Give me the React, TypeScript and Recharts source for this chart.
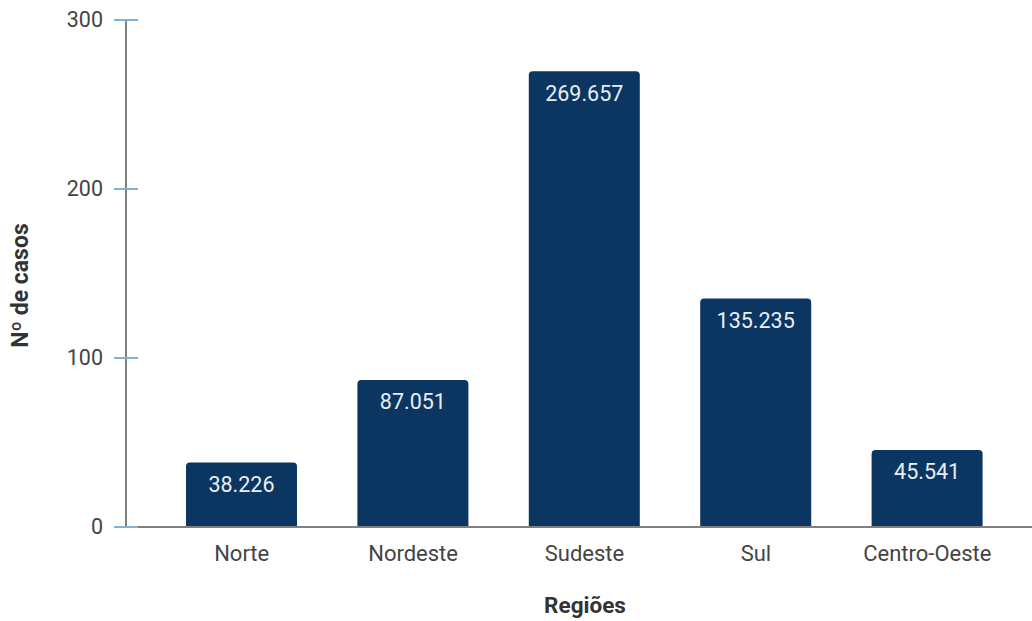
import { BarChart, Bar, XAxis, YAxis, LabelList, Label } from "recharts"

const regions = ["Norte", "Nordeste", "Sudeste", "Sul", "Centro-Oeste"]
const cases = [38.226, 87.051, 269.657, 135.235, 45.541]
const yTicks = [0, 100, 200, 300]

const data = regions.map((name, i) => ({ name, cases: cases[i] }))

const font = "Roboto, Arial, sans-serif"
const barColor = "#0b3662"

function YTick(props: any) {
  const { x, y, payload } = props
  const axisX = x + 23
  return (
    <g>
      <line x1={axisX - 12} x2={axisX + 12} y1={y} y2={y} stroke="#7fb2d4" strokeWidth={2} />
      <text x={x} y={y} dy={7} textAnchor="end" fill="#444" fontSize={21.5} fontFamily={font}>
        {payload.value}
      </text>
    </g>
  )
}

export default function App() {
  return (
    <div style={{ position: "absolute", left: 0, top: 0, background: "#fff" }}>
      <BarChart
        width={1032}
        height={621}
        data={data}
        margin={{ top: 20, right: 0, bottom: 0, left: 0 }}
      >
        <XAxis
          dataKey="name"
          height={94}
          axisLine={{ stroke: "#808080", strokeWidth: 2 }}
          tickLine={false}
          tickMargin={12}
          padding={{ left: 30, right: 19 }}
          tick={{ fill: "#444", fontSize: 22, fontFamily: font }}
        >
          <Label
            content={({ viewBox }: any) => (
              <text
                x={viewBox.x + viewBox.width / 2 + 6}
                y={613}
                textAnchor="middle"
                fontWeight="bold"
                fontSize={22.5}
                fill="#333"
                fontFamily={font}
              >
                Regiões
              </text>
            )}
          />
        </XAxis>
        <YAxis
          width={126}
          domain={[0, 300]}
          ticks={yTicks}
          interval={0}
          axisLine={{ stroke: "#808080", strokeWidth: 2 }}
          tickLine={false}
          tickSize={12}
          tickMargin={11}
          tick={<YTick />}
        >
          <Label
            content={({ viewBox }: any) => (
              <text
                x={28}
                y={viewBox.y + viewBox.height / 2 + 12}
                transform={`rotate(-90, 28, ${viewBox.y + viewBox.height / 2 + 12})`}
                textAnchor="middle"
                fontWeight="bold"
                fontSize={23}
                fill="#333"
                fontFamily={font}
              >
                Nº de casos
              </text>
            )}
          />
        </YAxis>
        <Bar dataKey="cases" fill={barColor} barSize={111} radius={[4, 4, 0, 0]} isAnimationActive={false}>
          <LabelList
            dataKey="cases"
            position="insideTop"
            offset={14}
            fill="#e9eef4"
            fontSize={21.5}
            fontFamily={font}
            formatter={(v: any) => Number(v).toFixed(3)}
          />
        </Bar>
      </BarChart>
    </div>
  )
}
